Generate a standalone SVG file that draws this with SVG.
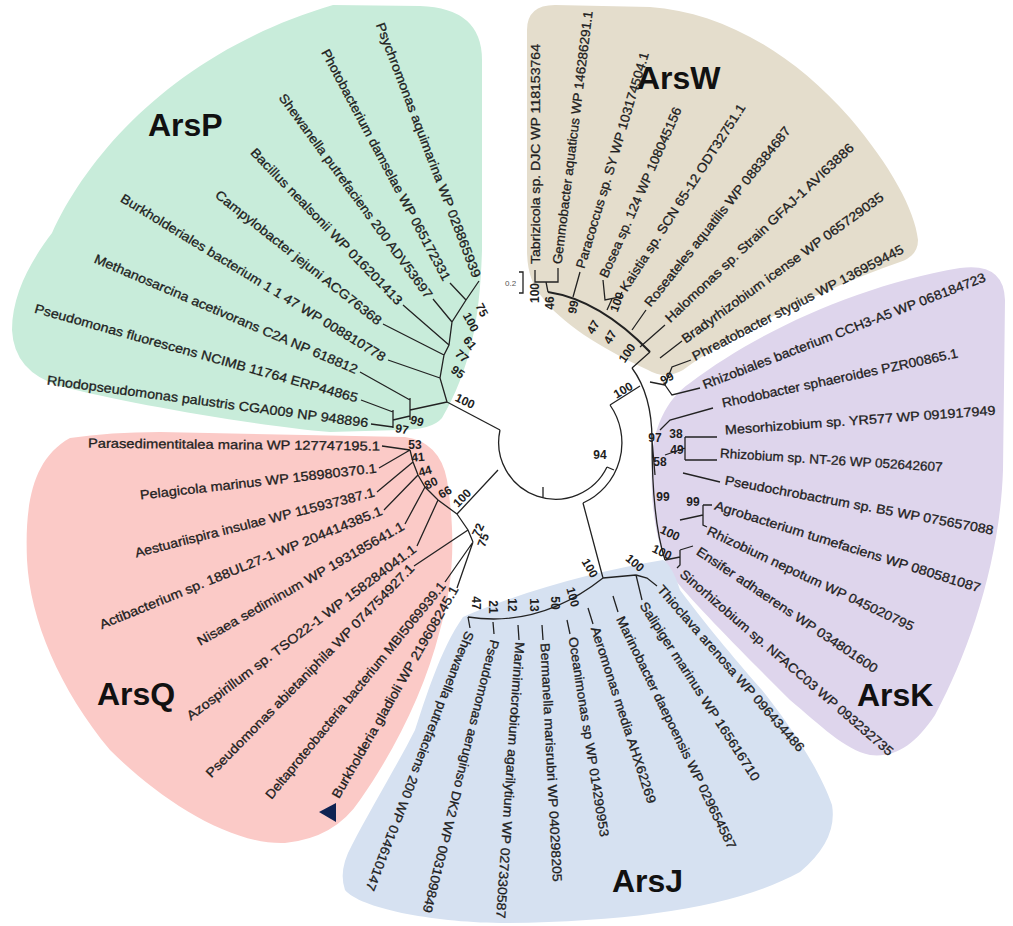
<svg xmlns="http://www.w3.org/2000/svg" width="1013" height="926" viewBox="0 0 1013 926">
<style>
.lb{font-family:"Liberation Sans",Arial,sans-serif;font-size:13px;fill:#1e1e1e;stroke:#1e1e1e;stroke-width:0.3}
.nl{font-family:"Liberation Sans",Arial,sans-serif;font-size:12px;font-weight:bold;fill:#1e1e1e;text-anchor:middle}
.ttl{font-family:"Liberation Sans",Arial,sans-serif;font-size:32px;font-weight:bold;fill:#111}
.br{fill:none;stroke:#222;stroke-width:1.3}
</style>
<rect width="1013" height="926" fill="#fff"/>
<g id="clade-ArsP">
<path d="M52,233 C90,150 180,50 333,5 L420,6 Q482,8 482,60 L482,250 C480,320 470,370 442,418 Q432,430 400,430 L330,432 C250,425 120,402 60,386 Q14,372 12,330 C12,295 30,262 52,233 Z" fill="#c8ecda"/>
<text class="ttl" x="148" y="136">ArsP</text>
</g>
<g id="clade-ArsW">
<path d="M527,30 Q527,5 555,5 L650,7 C720,12 790,50 850,118 C890,165 915,210 918,240 Q918,256 900,262 C820,290 730,335 683,370 Q665,380 648,370 C600,348 560,322 542,297 Q527,280 527,250 Z" fill="#e4ddcc"/>
<text class="ttl" x="637" y="89">ArsW</text>
</g>
<g id="clade-ArsK">
<path d="M690,383 C760,330 860,285 960,268 Q1004,262 1005,300 L1003,470 C1000,560 970,650 935,715 C915,745 895,758 870,755 C845,750 820,725 790,700 C750,660 700,610 675,580 C655,550 650,500 652,460 C653,430 665,400 690,383 Z" fill="#ded5ec"/>
<text class="ttl" x="857" y="706">ArsK</text>
</g>
<g id="clade-ArsJ">
<path d="M463,617 C520,592 600,570 663,560 Q672,565 680,590 C710,630 740,665 762,690 C790,725 820,770 832,805 Q838,840 800,872 C740,905 640,922 500,923 C430,922 360,908 345,890 Q338,870 352,845 C370,810 400,760 415,730 C425,700 440,650 463,617 Z" fill="#d6e1f1"/>
<text class="ttl" x="612" y="892">ArsJ</text>
</g>
<g id="clade-ArsQ">
<path d="M70,438 Q110,432 160,432 L405,437 Q440,442 447,480 C455,530 455,580 440,630 C425,690 395,750 360,800 Q335,838 285,843 C230,845 160,800 110,750 C60,690 30,620 27,560 C25,510 30,460 70,438 Z" fill="#fbcac7"/>
<text class="ttl" x="97" y="705">ArsQ</text>
</g>
<g id="connectors" class="br">
<path d="M500,430 A57,57 0 0 0 607,467"/>
<path d="M543,497 L543,487"/>
<path d="M500,430 L447,402"/>
<path d="M393,410 L393,428 M371,424 L393,427 M361,400 L393,412 M393,420 L410,416 M410,398 L410,420 M360,372 L410,400 M410,410 L447,402"/>
<path d="M447,402 L440,378 L444,355 L449,345 L452,322 L466,300 M388,360 L440,378 M383,324 L444,355 M403,305 L449,345 M433,299 L452,322 M450,283 L466,300 M479,281 L466,300"/>
<path d="M498,470 L457,514 M457,514 L438,500 L425,487 L418,475 L413,462 L410,450 M382,446 L410,450 M379,468 L410,450 M377,492 L413,462 M384,510 L418,475 M405,524 L425,487 M417,546 L438,500 M457,514 L468,530 L473,542 M414,566 L468,530 M445,582 L473,542 M457,588 L473,542"/>
<path d="M607,467 L614,470 M610,405 A66,66 0 0 1 583,503 M610,405 L640,386 M632,368 Q652,395 652,440 L655,475 M652,440 Q652,520 665,560"/>
<path d="M583,503 L603,578 M603,578 L636,575 M636,575 L647,578 L657,586 M636,575 L642,600 M603,578 Q540,628 468,617 M468,617 L470,628 M493,622 L494,634 M518,625 L519,640 M542,625 L543,640 M567,620 L570,634 M588,608 L593,624 M613,596 L618,612"/>
<path d="M548,292 Q600,300 650,352" stroke-width="2.2"/>
<path d="M535,270 L535,282 L558,282 L558,268 M546,282 L548,292 M580,272 L573,297 M603,280 L605,300 L620,297 L622,292 M612,299 L607,310 M646,310 L632,330 M665,325 L640,347 M682,341 L660,358 M691,360 L672,367 L665,385 M650,352 L632,368"/>
<path d="M665,385 L650,382 M700,388 L672,395 L665,385 M713,408 L670,420 L660,430 M685,437 L717,437 M685,460 L717,460 M685,437 L685,460 M685,448 L665,455 M683,473 L720,482 M703,505 L712,505 M703,505 L703,525 L707,527 M703,515 L680,520 M680,550 L693,546 M680,550 L680,565 L677,568 M680,557 L665,560"/>
</g>
<g id="scale">
<path d="M519,272 L523,272 L523,293 L519,293" class="br" stroke-width="1"/>
<text x="505" y="286" style="font-family:'Liberation Sans',Arial,sans-serif;font-size:8px;fill:#555">0.2</text>
</g>
<g id="node-labels">
<text class="nl" transform="translate(482,310) rotate(62)" dy=".35em">75</text>
<text class="nl" transform="translate(471,322) rotate(62)" dy=".35em">100</text>
<text class="nl" transform="translate(470,343) rotate(50)" dy=".35em">61</text>
<text class="nl" transform="translate(462,356) rotate(40)" dy=".35em">77</text>
<text class="nl" transform="translate(458,372) rotate(35)" dy=".35em">95</text>
<text class="nl" transform="translate(465,401) rotate(25)" dy=".35em">100</text>
<text class="nl" transform="translate(417,421) rotate(15)" dy=".35em">99</text>
<text class="nl" transform="translate(402,429) rotate(10)" dy=".35em">97</text>
<text class="nl" transform="translate(415,445)" dy=".35em">53</text>
<text class="nl" transform="translate(418,457) rotate(-5)" dy=".35em">41</text>
<text class="nl" transform="translate(425,471) rotate(-15)" dy=".35em">44</text>
<text class="nl" transform="translate(431,483) rotate(-25)" dy=".35em">80</text>
<text class="nl" transform="translate(445,492) rotate(-30)" dy=".35em">66</text>
<text class="nl" transform="translate(462,498) rotate(-45)" dy=".35em">100</text>
<text class="nl" transform="translate(478,530) rotate(-65)" dy=".35em">72</text>
<text class="nl" transform="translate(483,540) rotate(-70)" dy=".35em">75</text>
<text class="nl" transform="translate(476,603) rotate(90)" dy=".35em">47</text>
<text class="nl" transform="translate(493,607) rotate(90)" dy=".35em">21</text>
<text class="nl" transform="translate(512,605) rotate(90)" dy=".35em">12</text>
<text class="nl" transform="translate(534,605) rotate(90)" dy=".35em">13</text>
<text class="nl" transform="translate(555,603) rotate(90)" dy=".35em">50</text>
<text class="nl" transform="translate(573,597) rotate(75)" dy=".35em">100</text>
<text class="nl" transform="translate(590,568) rotate(60)" dy=".35em">100</text>
<text class="nl" transform="translate(635,563) rotate(40)" dy=".35em">100</text>
<text class="nl" transform="translate(667,378) rotate(-30)" dy=".35em">99</text>
<text class="nl" transform="translate(655,438)" dy=".35em">97</text>
<text class="nl" transform="translate(676,434)" dy=".35em">38</text>
<text class="nl" transform="translate(677,450)" dy=".35em">49</text>
<text class="nl" transform="translate(660,462)" dy=".35em">58</text>
<text class="nl" transform="translate(663,497)" dy=".35em">99</text>
<text class="nl" transform="translate(670,533) rotate(25)" dy=".35em">100</text>
<text class="nl" transform="translate(662,552) rotate(25)" dy=".35em">100</text>
<text class="nl" transform="translate(693,502)" dy=".35em">99</text>
<text class="nl" transform="translate(600,455)" dy=".35em">94</text>
<text class="nl" transform="translate(623,390) rotate(-30)" dy=".35em">100</text>
<text class="nl" transform="translate(535,293) rotate(-90)" dy=".35em">100</text>
<text class="nl" transform="translate(550,303) rotate(-90)" dy=".35em">46</text>
<text class="nl" transform="translate(573,307) rotate(-80)" dy=".35em">99</text>
<text class="nl" transform="translate(593,327) rotate(-60)" dy=".35em">47</text>
<text class="nl" transform="translate(617,302) rotate(-70)" dy=".35em">100</text>
<text class="nl" transform="translate(610,337) rotate(-60)" dy=".35em">47</text>
<text class="nl" transform="translate(627,353) rotate(-55)" dy=".35em">100</text>
</g>
<g id="leaves-ArsW">
<g id="n-tabrizicola"><text class="lb" transform="translate(535,264) rotate(-90)" dy=".35em" textLength="220" lengthAdjust="spacingAndGlyphs">Tabrizicola sp. DJC WP 118153764</text></g>
<g id="n-gemmobacter"><text class="lb" transform="translate(557,264) rotate(-83)" dy=".35em" textLength="255" lengthAdjust="spacingAndGlyphs">Gemmobacter aquaticus WP 146286291.1</text></g>
<g id="n-paracoccus"><text class="lb" transform="translate(580,268) rotate(-73.3)" dy=".35em" textLength="225" lengthAdjust="spacingAndGlyphs">Paracoccus sp. SY WP 103174504.1</text></g>
<g id="n-bosea"><text class="lb" transform="translate(603,277) rotate(-66.2)" dy=".35em" textLength="185" lengthAdjust="spacingAndGlyphs">Bosea sp. 124 WP 108045156</text></g>
<g id="n-kaistia"><text class="lb" transform="translate(623,290) rotate(-57.2)" dy=".35em" textLength="220" lengthAdjust="spacingAndGlyphs">Kaistia sp. SCN 65-12 ODT32751.1</text></g>
<g id="n-roseateles"><text class="lb" transform="translate(647,305) rotate(-51.5)" dy=".35em" textLength="226" lengthAdjust="spacingAndGlyphs">Roseateles aquatilis WP 088384687</text></g>
<g id="n-halomonas"><text class="lb" transform="translate(667,320) rotate(-43.4)" dy=".35em" textLength="254" lengthAdjust="spacingAndGlyphs">Halomonas sp. Strain GFAJ-1 AVI63886</text></g>
<g id="n-bradyrhizobium"><text class="lb" transform="translate(683,340) rotate(-36)" dy=".35em" textLength="246" lengthAdjust="spacingAndGlyphs">Bradyrhizobium icense WP 065729035</text></g>
<g id="n-phreatobacter"><text class="lb" transform="translate(693,357) rotate(-27.4)" dy=".35em" textLength="236" lengthAdjust="spacingAndGlyphs">Phreatobacter stygius WP 136959445</text></g>
</g>
<g id="leaves-ArsK">
<g id="n-rhizobiales"><text class="lb" transform="translate(703,385) rotate(-21)" dy=".35em" textLength="302" lengthAdjust="spacingAndGlyphs">Rhizobiales bacterium CCH3-A5 WP 068184723</text></g>
<g id="n-rhodobacter"><text class="lb" transform="translate(722,403) rotate(-12)" dy=".35em" textLength="241" lengthAdjust="spacingAndGlyphs">Rhodobacter sphaeroides PZR00865.1</text></g>
<g id="n-mesorhizobium"><text class="lb" transform="translate(725,430) rotate(-4.2)" dy=".35em" textLength="271" lengthAdjust="spacingAndGlyphs">Mesorhizobium sp. YR577 WP 091917949</text></g>
<g id="n-rhizobium-nt26"><text class="lb" transform="translate(720,453) rotate(3.6)" dy=".35em" textLength="223" lengthAdjust="spacingAndGlyphs">Rhizobium sp. NT-26 WP 052642607</text></g>
<g id="n-pseudochrobactrum"><text class="lb" transform="translate(725,480) rotate(10.6)" dy=".35em" textLength="273" lengthAdjust="spacingAndGlyphs">Pseudochrobactrum sp. B5 WP 075657088</text></g>
<g id="n-agrobacterium"><text class="lb" transform="translate(715,505) rotate(17.4)" dy=".35em" textLength="278" lengthAdjust="spacingAndGlyphs">Agrobacterium tumefaciens WP 080581087</text></g>
<g id="n-rhizobium-nepotum"><text class="lb" transform="translate(708,530) rotate(25.3)" dy=".35em" textLength="227" lengthAdjust="spacingAndGlyphs">Rhizobium nepotum WP 045020795</text></g>
<g id="n-ensifer"><text class="lb" transform="translate(698,550) rotate(33.8)" dy=".35em" textLength="215" lengthAdjust="spacingAndGlyphs">Ensifer adhaerens WP 034801600</text></g>
<g id="n-sinorhizobium"><text class="lb" transform="translate(682,572) rotate(40.8)" dy=".35em" textLength="277" lengthAdjust="spacingAndGlyphs">Sinorhizobium sp. NFACC03 WP 093232735</text></g>
</g>
<g id="leaves-ArsJ">
<g id="n-thioclava"><text class="lb" transform="translate(660,587) rotate(48.9)" dy=".35em" textLength="216" lengthAdjust="spacingAndGlyphs">Thioclava arenosa WP 096434486</text></g>
<g id="n-salipiger"><text class="lb" transform="translate(643,603) rotate(57.2)" dy=".35em" textLength="210" lengthAdjust="spacingAndGlyphs">Salipiger marinus WP 165616710</text></g>
<g id="n-marinobacter"><text class="lb" transform="translate(620,617) rotate(64)" dy=".35em" textLength="257" lengthAdjust="spacingAndGlyphs">Marinobacter daepoensis WP 029654587</text></g>
<g id="n-aeromonas"><text class="lb" transform="translate(595,627) rotate(72)" dy=".35em" textLength="185" lengthAdjust="spacingAndGlyphs">Aeromonas media AHX62269</text></g>
<g id="n-oceanimonas"><text class="lb" transform="translate(573,637) rotate(81)" dy=".35em" textLength="202" lengthAdjust="spacingAndGlyphs">Oceanimonas sp WP 014290953</text></g>
<g id="n-bermanella"><text class="lb" transform="translate(545,643) rotate(87)" dy=".35em" textLength="239" lengthAdjust="spacingAndGlyphs">Bermanella marisrubri WP 040298205</text></g>
<g id="n-marinimicrobium"><text class="lb" transform="translate(520,642) rotate(94)" dy=".35em" textLength="277" lengthAdjust="spacingAndGlyphs">Marinimicrobium agarilytium WP 027330587</text></g>
<g id="n-pseudomonas-aer"><text class="lb" transform="translate(495,640) rotate(104)" dy=".35em" textLength="281" lengthAdjust="spacingAndGlyphs">Pseudomonas aeruginso DK2 WP 003109849</text></g>
<g id="n-shewanella-j"><text class="lb" transform="translate(470,632) rotate(111.2)" dy=".35em" textLength="277" lengthAdjust="spacingAndGlyphs">Shewanella putrefaciens 200 WP 014610147</text></g>
</g>
<g id="leaves-ArsQ">
<g id="n-parasedimentitalea"><text class="lb" transform="translate(88,443) rotate(0.6)" dy=".35em" textLength="292" lengthAdjust="spacingAndGlyphs">Parasedimentitalea marina WP 127747195.1</text></g>
<g id="n-pelagicola"><text class="lb" transform="translate(140,495) rotate(-6.5)" dy=".35em" textLength="238" lengthAdjust="spacingAndGlyphs">Pelagicola marinus WP 158980370.1</text></g>
<g id="n-aestuariispira"><text class="lb" transform="translate(135,553) rotate(-14.3)" dy=".35em" textLength="247" lengthAdjust="spacingAndGlyphs">Aestuariispira insulae WP 115937387.1</text></g>
<g id="n-actibacterium"><text class="lb" transform="translate(100,625) rotate(-22.2)" dy=".35em" textLength="304" lengthAdjust="spacingAndGlyphs">Actibacterium sp. 188UL27-1 WP 204414385.1</text></g>
<g id="n-nisaea"><text class="lb" transform="translate(198,642) rotate(-29.7)" dy=".35em" textLength="236" lengthAdjust="spacingAndGlyphs">Nisaea sediminum WP 193185641.1</text></g>
<g id="n-azospirillum"><text class="lb" transform="translate(188,717) rotate(-36.8)" dy=".35em" textLength="283" lengthAdjust="spacingAndGlyphs">Azospirillum sp. TSO22-1 WP 158284041.1</text></g>
<g id="n-pseudomonas-abi"><text class="lb" transform="translate(208,775) rotate(-45.7)" dy=".35em" textLength="292" lengthAdjust="spacingAndGlyphs">Pseudomonas abietaniphila WP 074754927.1</text></g>
<g id="n-deltaproteobacteria"><text class="lb" transform="translate(268,797) rotate(-50.7)" dy=".35em" textLength="276" lengthAdjust="spacingAndGlyphs">Deltaproteobacteria bacterium MBI5069939.1</text></g>
<g id="n-burkholderia-gladioli"><text class="lb" transform="translate(335,797) rotate(-60.3)" dy=".35em" textLength="242" lengthAdjust="spacingAndGlyphs">Burkholderia gladioli WP 219608245.1</text></g>
<polygon id="marker-triangle" points="319,812 336,803 336,822" fill="#0f2352"/>
</g>
<g id="leaves-ArsP">
<g id="n-rhodopseudomonas"><text class="lb" transform="translate(47,380) rotate(7.6)" dy=".35em" textLength="324" lengthAdjust="spacingAndGlyphs">Rhodopseudomonas palustris CGA009 NP 948896</text></g>
<g id="n-pseudomonas-fl"><text class="lb" transform="translate(35,308) rotate(15.6)" dy=".35em" textLength="335" lengthAdjust="spacingAndGlyphs">Pseudomonas fluorescens NCIMB 11764 ERP44865</text></g>
<g id="n-methanosarcina"><text class="lb" transform="translate(95,258) rotate(23.1)" dy=".35em" textLength="285" lengthAdjust="spacingAndGlyphs">Methanosarcina acetivorans C2A NP 618812</text></g>
<g id="n-burkholderiales"><text class="lb" transform="translate(122,197) rotate(31.5)" dy=".35em" textLength="308" lengthAdjust="spacingAndGlyphs">Burkholderiales bacterium 1 1 47 WP 008810778</text></g>
<g id="n-campylobacter"><text class="lb" transform="translate(217,193) rotate(38.4)" dy=".35em" textLength="208" lengthAdjust="spacingAndGlyphs">Campylobacter jejuni ACG76368</text></g>
<g id="n-bacillus"><text class="lb" transform="translate(253,150) rotate(46)" dy=".35em" textLength="212" lengthAdjust="spacingAndGlyphs">Bacillus nealsonii WP 016201413</text></g>
<g id="n-shewanella-p"><text class="lb" transform="translate(282,95) rotate(53.8)" dy=".35em" textLength="250" lengthAdjust="spacingAndGlyphs">Shewanella putrefaciens 200 ADV53697</text></g>
<g id="n-photobacterium"><text class="lb" transform="translate(325,50) rotate(62)" dy=".35em" textLength="260" lengthAdjust="spacingAndGlyphs">Photobacterium damselae WP 065172331</text></g>
<g id="n-psychromonas"><text class="lb" transform="translate(380,23) rotate(69.1)" dy=".35em" textLength="272" lengthAdjust="spacingAndGlyphs">Psychromonas aquimarina WP 028865939</text></g>
</g>
</svg>
